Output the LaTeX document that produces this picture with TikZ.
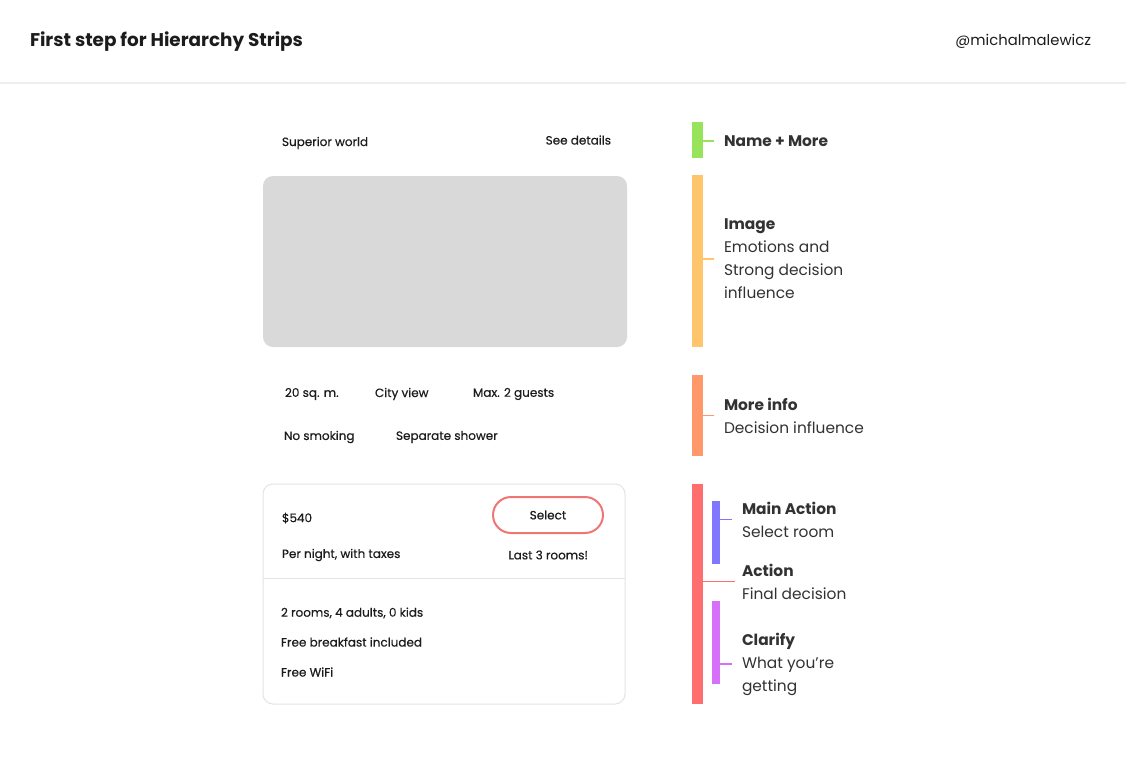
\documentclass[tikz,border=0pt]{standalone}
\usepackage{fontspec}
\setmainfont{Poppins}
\newfontfamily\cardfont{Poppins}[FakeBold=0.4]
\usetikzlibrary{positioning}

\definecolor{inkdark}{RGB}{28,28,28}
\definecolor{inksoft}{RGB}{50,50,50}
\definecolor{hdrgray}{RGB}{238,238,238}
\definecolor{cardgray}{RGB}{228,228,228}
\definecolor{imggray}{RGB}{217,217,217}
\definecolor{stripgreen}{RGB}{152,227,92}
\definecolor{stripyellow}{RGB}{255,197,108}
\definecolor{stripsalmon}{RGB}{255,152,106}
\definecolor{stripred}{RGB}{255,110,110}
\definecolor{stripblue}{RGB}{128,118,255}
\definecolor{stripviolet}{RGB}{214,112,250}
\definecolor{btnred}{RGB}{240,118,118}

\tikzset{
  cardtxt/.style={anchor=west, text=inkdark, font=\cardfont\fontsize{12}{14}\selectfont},
  lbl/.style={anchor=west, align=left, text=inksoft, font=\fontsize{15.4}{23}\selectfont},
  strip/.style={rectangle, minimum width=11pt},
  substrip/.style={rectangle, minimum width=8pt},
  tick/.style={line width=1.5pt}
}

\begin{document}
\begin{tikzpicture}[x=1pt, y=-1pt, every node/.style={inner sep=0pt, outer sep=0pt}]
			\useasboundingbox[fill=white] (0,0) rectangle (1126,768);
			
			\node[anchor=west, text=inkdark, font=\fontsize{18.4}{22}\selectfont\bfseries] (title) at (30,42) {First step for Hierarchy Strips};
			\node[anchor=east, text=inkdark, font=\fontsize{14.8}{18}\selectfont] (handle) at (1091,41) {@michalmalewicz};
			\draw[hdrgray, line width=1.5pt] (0,83) -- (1126,83);
			
			\node[cardtxt] (room) at (282,143) {Superior world};
			\node[cardtxt, anchor=east] (details) at (611,140) {See details};
			\node[rectangle, fill=imggray, rounded corners=10pt, minimum width=364pt, minimum height=171pt] (img) at (445,261.5) {};
			
			\node[cardtxt] (size) at (285,394) {20 sq. m.};
			\node[cardtxt] (view) at (375,394) {City view};
			\node[cardtxt] (guests) at (473,394) {Max. 2 guests};
			\node[cardtxt] (smoke) at (284,437) {No smoking};
			\node[cardtxt] (shower) at (396,437) {Separate shower};
			
			\node[rectangle, draw=cardgray, line width=1pt, rounded corners=10pt, minimum width=362pt, minimum height=220pt] (card) at (444,594) {};
			\draw[cardgray, line width=1pt] (card.west |- 0,578) -- (card.east |- 0,578);
			\node[cardtxt] (price) at (282,518) {\$540};
			\node[rectangle, draw=btnred, line width=2pt, rounded corners=18pt, minimum width=110pt, minimum height=36pt, text=inkdark, font=\cardfont\fontsize{12}{14}\selectfont] (select) at (548,515) {Select};
			\node[cardtxt] (night) at (282,555) {Per night, with taxes};
			\node[cardtxt, anchor=east] (last) at (588,555) {Last 3 rooms!};
			\node[cardtxt] (rooms) at (281,613) {2 rooms, 4 adults, 0 kids};
			\node[cardtxt] (breakfast) at (281,642) {Free breakfast included};
			\node[cardtxt] (wifi) at (281,672) {Free WiFi};
			
			\node[strip, fill=stripgreen, minimum height=36pt] (nameS) at (697.5,140) {};
			\node[strip, fill=stripyellow, minimum height=172pt] (imgS) at (697.5,261) {};
			\node[strip, fill=stripsalmon, minimum height=81pt] (infoS) at (697.5,415.5) {};
			\node[strip, fill=stripred, minimum height=220pt] (actS) at (697.5,594) {};
			\node[substrip, fill=stripblue, minimum height=63pt] (mainS) at (716,532.5) {};
			\node[substrip, fill=stripviolet, minimum height=83pt] (clarS) at (716,642.5) {};
			
			\node[lbl] (nameL) at (724,141) {\textbf{Name + More}};
			\node[lbl] (imgL) at (724,259) {\textbf{Image}\\Emotions and\\Strong decision\\influence};
			\node[lbl] (infoL) at (724,415.5) {\textbf{More info}\\Decision influence};
			\node[lbl] (actL) at (742,581.5) {\textbf{Action}\\Final decision};
			\node[lbl] (mainL) at (742,519.5) {\textbf{Main Action}\\Select room};
			\node[lbl] (clarL) at (742,664) {\textbf{Clarify}\\What you’re\\getting};
			
			\draw[tick, stripgreen] (nameS.east |- nameL.west) -- ++(11,0);
			\draw[tick, stripyellow] (imgS.east |- imgL.west) -- ++(11,0);
			\draw[tick, stripsalmon] (infoS.east |- infoL.west) -- ++(11,0);
			\draw[tick, stripred] (actS.east |- actL.west) -- ++(32,0);
			\draw[tick, stripblue] (mainS.east |- mainL.west) -- ++(12,0);
			\draw[tick, stripviolet] (clarS.east |- clarL.west) -- ++(12,0);
			
		\end{tikzpicture}
\end{document}
